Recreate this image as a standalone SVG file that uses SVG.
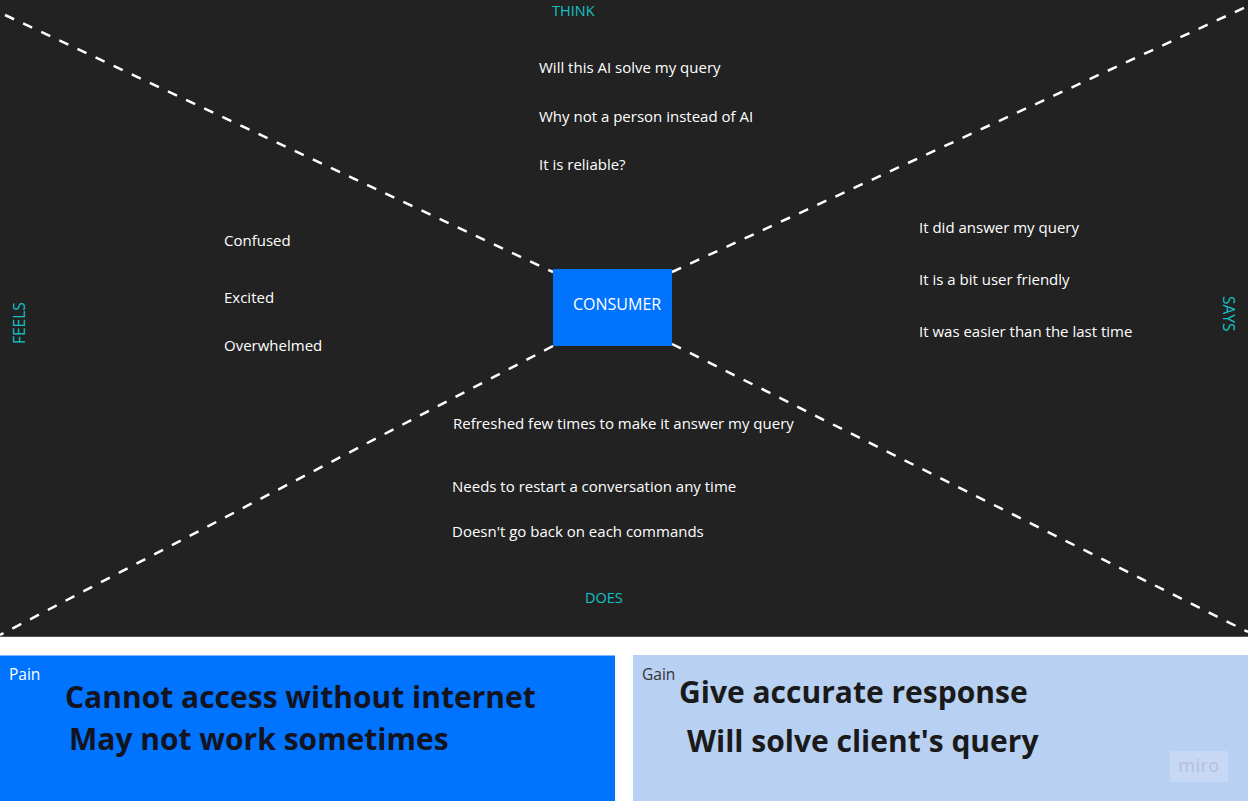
<svg xmlns="http://www.w3.org/2000/svg" width="1248" height="801" viewBox="0 0 1248 801">
<style>
text{font-family:"Open Sans","Noto Sans","Liberation Sans",sans-serif}
.t{font-size:15px;fill:#ffffff}
.h{font-size:14.500px;fill:#12c2c9}
.v{font-size:15.500px;fill:#12c2c9}
.b{font-size:30px;font-weight:700}
.c{stroke:#ffffff;stroke-width:2.500;stroke-dasharray:10 10;fill:none}
</style>
<rect x="0" y="0" width="1248" height="801" fill="#ffffff"/>
<rect id="canvas" x="0" y="0" width="1248" height="636" fill="#222222"/>
<rect x="0" y="636" width="1248" height="1" fill="#555555"/>
<g id="connectors">
<line class="c" x1="5" y1="15" x2="553" y2="272"/>
<line class="c" x1="672" y1="272" x2="1248" y2="6"/>
<line class="c" x1="553" y1="346" x2="0" y2="635"/>
<line class="c" x1="672" y1="344" x2="1248" y2="632"/>
</g>
<g id="consumer"><rect x="553" y="269" width="119" height="77" fill="#0073ff"/><text x="573" y="310" font-size="16" fill="#ffffff">CONSUMER</text></g>
<g id="think"><text class="h" x="552" y="16">THINK</text>
<text class="t" x="539" y="73">Will this AI solve my query</text>
<text class="t" x="539" y="122">Why not a person instead of AI</text>
<text class="t" x="539" y="170">It is reliable?</text></g>
<g id="feels"><text class="v" transform="translate(24.500 344) rotate(-90)">FEELS</text>
<text class="t" x="224" y="246">Confused</text>
<text class="t" x="224" y="303">Excited</text>
<text class="t" x="224" y="351">Overwhelmed</text></g>
<g id="says"><text class="v" transform="translate(1223 296) rotate(90)">SAYS</text>
<text class="t" x="919" y="233">It did answer my query</text>
<text class="t" x="919" y="285">It is a bit user friendly</text>
<text class="t" x="919" y="337">It was easier than the last time</text></g>
<g id="does"><text class="h" x="585" y="603">DOES</text>
<text class="t" x="453" y="429">Refreshed few times to make it answer my query</text>
<text class="t" x="452" y="492">Needs to restart a conversation any time</text>
<text class="t" x="452" y="537">Doesn't go back on each commands</text></g>
<g id="pain"><rect x="0" y="655.500" width="615" height="146" fill="#0073ff"/>
<text x="9" y="680" font-size="15.500" fill="#ffffff">Pain</text>
<text class="b" x="65" y="708" fill="#14141f">Cannot access without internet</text>
<text class="b" x="69" y="750" fill="#14141f">May not work sometimes</text></g>
<g id="gain"><rect x="633" y="655" width="615" height="146" fill="#b8d0f2"/>
<text x="642" y="680" font-size="15.500" fill="#333333">Gain</text>
<text class="b" x="679" y="703" fill="#1a1a1a">Give accurate response</text>
<text class="b" x="687" y="752" fill="#1a1a1a">Will solve client's query</text></g>
<g id="miro"><rect x="1170" y="751" width="58" height="31" fill="#c6d8f3"/>
<text x="1199" y="772" font-size="18" letter-spacing="0.500" text-anchor="middle" fill="#b4bfdc">miro</text></g>
</svg>
